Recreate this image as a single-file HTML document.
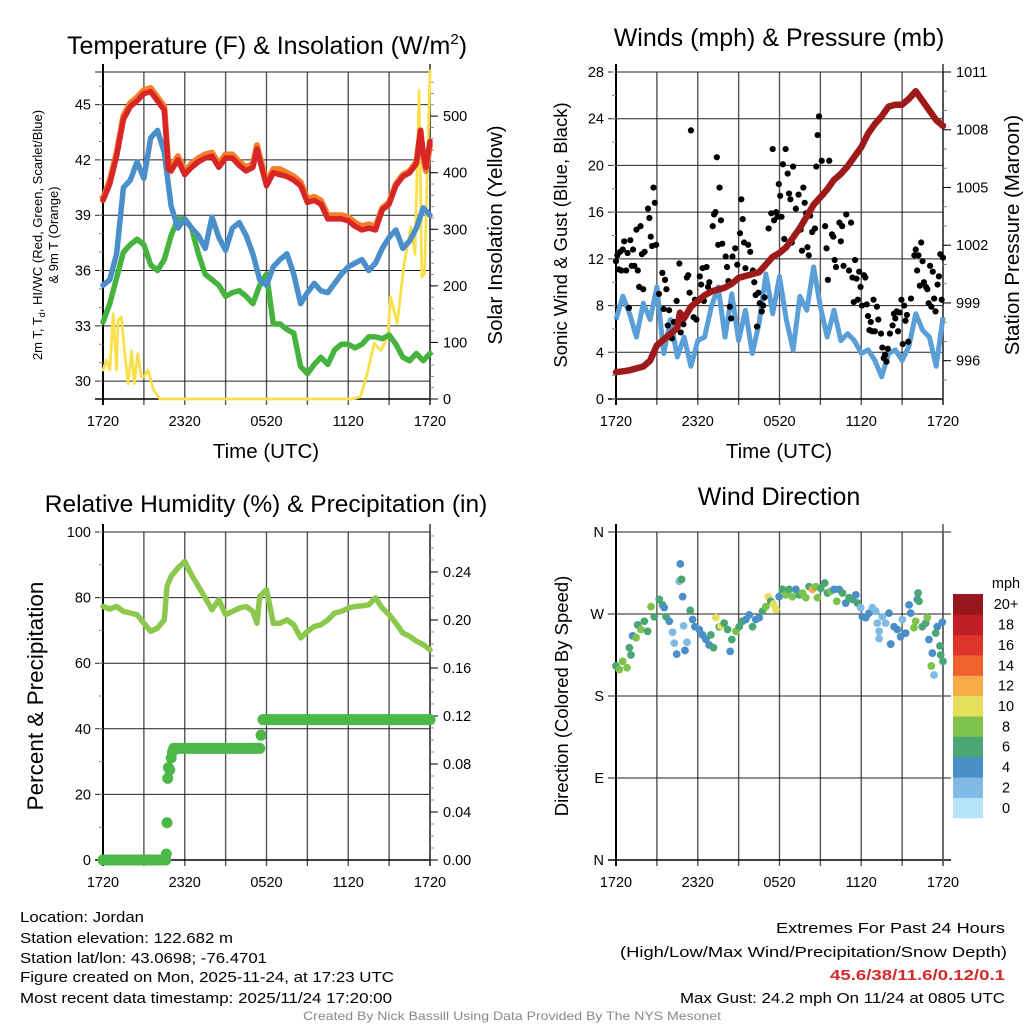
<!DOCTYPE html>
<html><head><meta charset="utf-8">
<style>
html,body{margin:0;padding:0;background:#fff;}
svg{display:block;font-family:"Liberation Sans",sans-serif;}
</style></head>
<body>
<svg id="fig" width="1024" height="1024" viewBox="0 0 1024 1024" xmlns="http://www.w3.org/2000/svg">
<rect width="1024" height="1024" fill="#fff"/>
<g id="p1"></g>
<g id="p2"></g>
<g id="p3"></g>
<g id="p4"></g>

<text x="267" y="54" font-size="25" text-anchor="middle">Temperature (F) &amp; Insolation (W/m<tspan font-size="15" dy="-10">2</tspan><tspan dy="10">)</tspan></text>
<text x="779" y="46" font-size="25" text-anchor="middle">Winds (mph) &amp; Pressure (mb)</text>
<text x="266" y="512" font-size="24.5" text-anchor="middle">Relative Humidity (%) &amp; Precipitation (in)</text>
<text x="779" y="505" font-size="25" text-anchor="middle">Wind Direction</text>

<text x="266" y="458" font-size="20.5" text-anchor="middle">Time (UTC)</text>
<text x="779" y="458" font-size="20.5" text-anchor="middle">Time (UTC)</text>

<text transform="translate(42,235) rotate(-90)" font-size="13" text-anchor="middle">2m T, T<tspan font-size="9" dy="3">d</tspan><tspan dy="-3">, HI/WC (Red, Green, Scarlet/Blue)</tspan></text>
<text transform="translate(58,235) rotate(-90)" font-size="13" text-anchor="middle">&amp; 9m T (Orange)</text>
<text transform="translate(502,235) rotate(-90)" font-size="20.5" text-anchor="middle">Solar Insolation (Yellow)</text>
<text transform="translate(567,235) rotate(-90)" font-size="18.5" text-anchor="middle">Sonic Wind &amp; Gust (Blue, Black)</text>
<text transform="translate(1019,235) rotate(-90)" font-size="20.5" text-anchor="middle">Station Pressure (Maroon)</text>
<text transform="translate(43,696) rotate(-90)" font-size="22.5" text-anchor="middle">Percent &amp; Precipitation</text>
<text transform="translate(568,696) rotate(-90)" font-size="18.5" text-anchor="middle">Direction (Colored By Speed)</text>

<g font-size="15">
<text x="20" y="922" textLength="124" lengthAdjust="spacingAndGlyphs">Location: Jordan</text>
<text x="20" y="943" textLength="213" lengthAdjust="spacingAndGlyphs">Station elevation: 122.682 m</text>
<text x="20" y="963" textLength="247" lengthAdjust="spacingAndGlyphs">Station lat/lon: 43.0698; -76.4701</text>
<text x="20" y="982" textLength="374" lengthAdjust="spacingAndGlyphs">Figure created on Mon, 2025-11-24, at 17:23 UTC</text>
<text x="20" y="1003" textLength="372" lengthAdjust="spacingAndGlyphs">Most recent data timestamp: 2025/11/24 17:20:00</text>
</g>
<g font-size="15">
<text x="776" y="933" textLength="229" lengthAdjust="spacingAndGlyphs">Extremes For Past 24 Hours</text>
<text x="620" y="957" textLength="387" lengthAdjust="spacingAndGlyphs">(High/Low/Max Wind/Precipitation/Snow Depth)</text>
<text x="830" y="980" textLength="175" lengthAdjust="spacingAndGlyphs" fill="#d42a2a" font-weight="bold">45.6/38/11.6/0.12/0.1</text>
<text x="680" y="1003" textLength="325" lengthAdjust="spacingAndGlyphs">Max Gust: 24.2 mph On 11/24 at 0805 UTC</text>
</g>
<text x="303" y="1020" font-size="12" fill="#888" textLength="418" lengthAdjust="spacingAndGlyphs">Created By Nick Bassill Using Data Provided By The NYS Mesonet</text>
</svg>
<script>
// ---------- DATA ----------
const timeLabels = ["1720","2320","0520","1120","1720"];
const halfHours = [0,0.5,1,1.5,2,2.5,3,3.5,4,4.5,5,5.5,6,6.5,7,7.5,8,8.5,9,9.5,10,10.5,11,11.5,12,12.5,13,13.5,14,14.5,15,15.5,16,16.5,17,17.5,18,18.5,19,19.5,20,20.5,21,21.5,22,22.5,23,23.5,24];
const tempHours = [0,0.5,1,1.5,2,2.5,3,3.5,4,4.5,4.8,5,5.5,6,6.5,7,7.5,8,8.5,9,9.5,10,10.5,11,11.3,11.5,12,12.5,13,13.5,14,14.5,15,15.5,16,16.5,17,17.5,18,18.5,19,19.5,20,20.5,21,21.5,22,22.5,23,23.3,23.5,23.7,24];
const tempRed = [39.8,40.7,42.2,44.2,44.9,45.2,45.6,45.7,45.2,44.7,41.5,41.4,42.0,41.2,41.6,41.9,42.1,42.2,41.6,42.1,42.1,41.7,41.4,41.6,42.6,42.0,40.6,41.3,41.2,41.1,40.9,40.6,39.7,39.8,39.6,38.8,38.8,38.8,38.7,38.4,38.2,38.3,38.2,39.3,39.6,40.6,41.1,41.3,41.8,43.6,42.4,41.6,43.0];
const temp9m = [39.9,40.9,42.4,44.4,45.1,45.4,45.8,45.9,45.4,44.9,41.7,41.6,42.2,41.4,41.8,42.1,42.3,42.4,41.8,42.3,42.3,41.9,41.6,41.8,42.8,42.2,40.8,41.5,41.5,41.3,41.1,40.8,39.9,40.0,39.8,39.0,39.0,39.0,38.9,38.6,38.4,38.5,38.4,39.4,39.7,40.7,41.2,41.4,41.9,43.6,42.2,41.4,42.8];
const windChill = [35.2,35.5,36.9,40.5,40.9,41.9,41.0,43.2,43.6,42.4,39.5,38.3,38.8,38.3,37.9,37.2,38.9,37.8,37.1,38.3,38.6,37.9,36.9,35.5,35.2,36.2,36.6,36.9,35.8,34.2,34.8,35.3,34.9,34.8,35.3,35.8,36.2,36.4,36.6,36.0,36.4,37.2,37.8,38.2,37.2,37.6,38.3,39.4,39.0];
const dewPoint = [33.2,34.2,35.6,37.0,37.4,37.7,37.4,36.3,36.0,36.6,37.9,38.8,38.8,38.3,36.9,35.8,35.5,35.2,34.6,34.8,34.9,34.6,34.2,35.2,35.8,33.1,33.1,32.8,32.6,30.8,30.4,30.9,31.3,30.9,31.7,32.0,32.0,31.8,32.0,32.4,32.4,32.3,32.5,32.0,31.3,31.1,31.5,31.1,31.5];
const solarHours = [0,0.25,0.5,0.75,1,1.1,1.35,1.6,1.85,2.1,2.3,2.55,2.8,3.0,3.3,3.7,4.2,5,10,15,18.3,18.9,19.4,19.9,20.4,20.9,21.1,21.6,22.1,22.6,22.9,23.2,23.4,23.6,24];
const solarValues = [51,69,51,151,51,139,145,80,27,85,27,80,40,39,51,16,0,0,0,0,0,4,45,98,86,110,181,134,239,304,256,545,216,222,580];
const pressureHours = [0,0.5,1,1.5,2,2.5,3,3.5,4,4.5,4.7,5,5.5,6,6.5,7,7.5,8,8.5,9,9.5,10,10.5,11,11.5,12,12.5,13,13.5,14,14.5,15,15.5,16,16.5,17,17.5,18,18.5,19,19.5,20,20.5,21,21.5,22,22.5,23,23.5,24];
const pressureValues = [995.4,995.45,995.5,995.6,995.7,996.0,996.8,997.1,997.4,997.7,998.5,998.2,998.8,999.1,999.4,999.6,999.7,999.8,1000.0,1000.3,1000.4,1000.5,1000.6,1001.0,1001.4,1001.6,1001.9,1002.4,1002.9,1003.5,1004.1,1004.5,1004.9,1005.4,1005.7,1006.1,1006.6,1007.1,1007.8,1008.3,1008.7,1009.2,1009.3,1009.3,1009.6,1010.0,1009.5,1009.0,1008.5,1008.2];
const windSpeed = [6.8,8.8,7.3,5.3,8.2,6.8,9.6,3.9,6.8,3.6,5.3,2.8,5.0,5.3,7.9,9.6,5.3,9.0,5.0,7.6,3.9,6.5,10.7,7.3,10.5,6.8,4.2,8.8,7.6,11.3,7.9,5.3,7.6,5.0,5.6,5.0,3.9,4.2,3.3,1.9,3.9,4.2,3.3,4.5,7.3,5.9,5.3,2.8,7.0];
const gustHours = [0,0.1,0.2,0.3,0.4,0.5,0.6,0.75,0.85,0.95,1.05,1.15,1.25,1.35,1.5,1.6,1.7,1.8,1.9,2.0,2.1,2.35,2.45,2.55,2.65,2.75,2.85,2.95,3.15,3.4,3.5,3.6,3.7,3.8,3.9,4.1,4.25,4.45,4.65,4.75,4.85,4.95,5.2,5.3,5.4,5.5,5.7,5.8,5.9,6.15,6.25,6.35,6.45,6.65,6.75,6.85,7.1,7.2,7.3,7.4,7.5,7.6,7.7,7.8,8.05,8.15,8.25,8.35,8.45,8.55,8.75,8.9,9.1,9.2,9.3,9.4,9.5,9.7,9.85,10.05,10.15,10.25,10.35,10.45,10.55,10.7,10.8,10.9,11.2,11.4,11.5,11.6,11.75,11.85,11.95,12.05,12.15,12.25,12.35,12.45,12.6,12.7,12.8,12.9,13.0,13.1,13.2,13.4,13.55,13.65,13.75,13.85,13.95,14.05,14.15,14.25,14.4,14.6,14.7,14.8,14.9,15.1,15.2,15.35,15.45,15.55,15.65,15.85,15.95,16.05,16.15,16.4,16.5,16.6,16.7,16.9,17.1,17.25,17.35,17.45,17.55,17.65,17.75,17.85,17.95,18.05,18.2,18.3,18.4,18.5,18.6,18.7,18.8,18.9,19.0,19.15,19.25,19.45,19.55,19.65,19.75,19.85,19.95,20.1,20.3,20.4,20.5,20.6,20.7,20.8,20.95,21.05,21.15,21.25,21.35,21.45,21.65,21.9,22.0,22.1,22.2,22.3,22.4,22.5,22.6,22.75,22.85,22.95,23.05,23.15,23.25,23.35,23.45,23.6,23.7,23.8,23.9,24.0];
const gustValues = [11.8,12.3,11.1,12.6,11.0,12.8,13.5,11.0,12.5,7.8,13.6,11.4,12.8,11.4,14.5,11.0,9.6,14.8,12.4,9.4,12.6,16.3,15.5,13.9,13.1,18.1,16.8,13.2,9.0,10.8,7.7,10.2,9.4,6.3,7.6,5.2,6.6,8.4,11.6,5.7,6.9,6.4,10.4,10.6,9.1,23.0,7.0,8.5,6.8,10.5,9.8,11.2,8.4,11.3,9.6,10.0,14.8,15.8,16.0,20.7,13.2,18.1,15.3,13.3,12.2,11.3,10.1,7.9,6.9,12.2,12.9,11.5,14.2,17.1,15.4,13.4,11.2,13.2,12.6,11.0,10.0,8.9,6.2,9.1,8.2,7.5,8.0,8.7,14.6,15.9,21.4,15.3,16.0,15.6,18.4,17.4,15.6,20.1,13.7,21.4,19.3,17.6,17.1,13.4,19.9,14.0,16.3,17.5,14.5,12.7,18.1,16.8,15.9,13.0,12.3,15.7,14.3,14.6,19.9,22.6,24.2,20.4,17.5,14.8,12.9,10.2,20.4,14.1,13.9,11.9,11.3,15.1,13.5,14.8,11.4,15.8,11.0,15.1,10.4,8.3,11.9,10.3,8.5,10.9,9.6,8.0,10.6,10.4,8.1,7.1,5.9,6.6,5.8,8.5,5.8,7.9,6.8,5.6,4.4,3.5,3.8,3.2,4.3,5.6,6.3,7.3,6.9,7.5,5.8,7.4,8.5,4.7,8.0,6.7,7.2,4.9,8.6,12.3,12.8,11.0,12.3,9.7,13.4,11.8,10.0,9.6,9.4,8.2,11.4,7.9,10.9,8.6,7.5,9.8,10.5,12.4,8.5,12.1];
const rhHours = [0,0.5,1,1.5,2,2.5,3,3.5,4,4.5,4.7,5,5.5,6,6.5,7,7.5,8,8.5,9,9.5,10,10.5,11,11.3,11.5,12,12.5,13,13.5,14,14.5,15,15.5,16,16.5,17,17.5,18,18.5,19,19.5,20,20.5,21,21.5,22,22.5,23,23.5,24];
const rhValues = [77.3,76.5,77.3,75.8,75.3,74.8,72.2,69.7,70.7,73.2,83.4,86.5,89.0,91.0,86.9,83.4,79.9,76.3,79.4,74.8,75.8,76.8,77.3,75.8,72.2,80.4,82.4,72.2,72.2,73.2,71.7,67.7,69.7,71.2,71.7,73.2,75.3,75.8,76.8,77.3,77.5,77.8,79.9,76.8,74.8,72.2,69.2,68.2,66.7,65.7,64.1];
const precipHours = [0,4.6,4.65,4.7,4.75,4.8,4.9,5.0,5.1,5.2,5.4,11.5,11.6,11.75,24];
const precipValues = [0,0,0.005,0.031,0.068,0.077,0.075,0.085,0.09,0.093,0.093,0.093,0.104,0.117,0.117];
const dirHours = [0,0.24,0.49,0.81,0.98,1.1,1.22,1.47,1.59,1.83,2.08,2.32,2.57,2.81,3.18,3.42,3.54,3.67,3.91,4.15,4.28,4.45,4.64,4.72,4.81,4.89,4.96,5.06,5.21,5.45,5.62,5.79,6.11,6.35,6.6,6.84,6.96,7.16,7.33,7.58,7.7,7.94,8.19,8.38,8.5,8.8,9.04,9.29,9.53,9.78,10.02,10.26,10.51,10.75,11.0,11.17,11.36,11.56,11.73,11.97,12.22,12.46,12.71,12.95,13.2,13.44,13.69,13.93,14.17,14.42,14.66,14.79,15.03,15.32,15.52,15.76,16.01,16.2,16.37,16.62,16.86,17.11,17.35,17.6,17.72,17.96,18.08,18.33,18.57,18.82,19.06,19.18,19.31,19.31,19.55,19.79,20.04,20.16,20.41,20.65,20.89,21.02,21.26,21.51,21.63,21.87,21.99,22.12,22.17,22.24,22.48,22.73,22.85,22.97,23.14,23.22,23.34,23.46,23.58,23.78,23.83,23.95,24];
const dirValues = [213,209,218,211,233,225,246,244,258,253,262,251,278,267,286,280,277,267,262,250,238,226,306,325,308,289,257,230,239,274,264,256,253,247,242,236,247,233,266,256,257,260,253,229,242,251,256,262,264,269,256,264,266,273,278,289,284,281,275,289,297,291,297,289,297,291,293,288,300,297,300,288,298,304,293,295,297,284,297,293,282,288,286,291,282,277,267,266,271,277,273,260,251,243,267,260,271,237,256,253,245,264,249,280,271,255,262,286,293,284,256,260,266,242,213,227,203,249,256,235,225,261,218];
const dirSpeeds = [6,8,8,8,6,6,4,8,6,8,6,6,8,6,6,6,4,6,4,2,2,4,2,4,6,4,2,4,2,6,4,4,4,4,4,4,6,6,10,6,10,6,6,4,6,8,6,6,4,4,6,4,4,6,8,10,6,10,10,4,6,8,6,8,4,6,8,8,6,12,8,8,6,6,6,8,4,8,4,6,4,6,6,4,6,2,4,4,4,2,2,2,2,2,2,2,4,4,4,4,4,2,4,4,4,8,8,4,6,6,6,6,8,4,8,4,2,6,4,6,6,4,6];
const speedBinLabels = ["0","2","4","6","8","10","12","14","16","18","20+"];
const speedBinColors = ["#b5e3f8","#7fbbe5","#4a8fc8","#4aa774","#7dc24b","#e6e05c","#f6aa48","#ee632d","#dd3429","#bf1e26","#95181c"];

// ---------- HELPERS ----------
const NS = "http://www.w3.org/2000/svg";
function mk(parent, tag, attrs) {
  const e = document.createElementNS(NS, tag);
  for (const k in attrs) e.setAttribute(k, attrs[k]);
  parent.appendChild(e);
  return e;
}
function scale(d0, d1, r0, r1) { return v => r0 + (v - d0) * (r1 - r0) / (d1 - d0); }
function pathFrom(xs, ys, fx, fy) {
  return xs.map((h, i) => (i ? "L" : "M") + fx(h).toFixed(1) + "," + fy(ys[i]).toFixed(1)).join(" ");
}

function frame(g, L, R, T, B, fx, hLines) {
  for (let h = 0; h <= 24; h += 3) {
    const l = mk(g, "line", {x1: fx(h), x2: fx(h), y1: T, y2: B + 6, stroke: "#555", "stroke-width": 1.4});
    
    
  }
  hLines.forEach(y => {
    const l = mk(g, "line", {x1: L - 8, x2: R, y1: y, y2: y, stroke: "#222", "stroke-width": 1});
    
    
  });
  const sp = mk(g, "line", {x1: L, x2: L, y1: T - 8, y2: B + 6, stroke: "#000", "stroke-width": 2});
  
  
  const bt = mk(g, "line", {x1: L - 8, x2: R, y1: B, y2: B, stroke: "#000", "stroke-width": 1.5});
  
  
  timeLabels.forEach((t, i) => {
    const tx = mk(g, "text", {x: fx(i * 6), y: B + 27, "font-size": 14.5, "text-anchor": "middle"});
    tx.textContent = t;
    
    
  });
}
function leftTicks(g, L, ticks, fy, minors, labels) {
  minors.forEach(v => {
    const l = mk(g, "line", {x1: L - 4, x2: L, y1: fy(v), y2: fy(v), stroke: "#888", "stroke-width": 1});
    
    
  });
  ticks.forEach((v, i) => {
    const t = mk(g, "text", {x: L - 12, y: fy(v) + 5, "font-size": 14.5, "text-anchor": "end"});
    t.textContent = labels ? labels[i] : v;
    
    
  });
}
function rightTicks(g, R, T, B, ticks, fy, minors, labels) {
  const sp = mk(g, "line", {x1: R, x2: R, y1: T - 8, y2: B + 6, stroke: "#333", "stroke-width": 1.5});
  
  
  minors.forEach(v => {
    const l = mk(g, "line", {x1: R, x2: R + 4, y1: fy(v), y2: fy(v), stroke: "#888", "stroke-width": 1});
    
    
  });
  ticks.forEach((v, i) => {
    const l = mk(g, "line", {x1: R, x2: R + 8, y1: fy(v), y2: fy(v), stroke: "#000", "stroke-width": 1});
    
    
    const t = mk(g, "text", {x: R + 13, y: fy(v) + 5, "font-size": 14.5});
    t.textContent = labels[i];
    
    
  });
}
function range(a, b, s) { const r = []; for (let v = a; v <= b + 1e-9; v += s) r.push(+v.toFixed(4)); return r; }

// ---------- PANEL 1 ----------
(function () {
  const g = document.getElementById("p1");
  const L = 103, R = 430, T = 72, B = 399;
  const fx = scale(0, 24, L, R), fy = scale(29.03, 46.77, B, T), fs = scale(0, 578, B, T);
  const yt = [30, 33, 36, 39, 42, 45];
  frame(g, L, R, T, B, fx, yt.map(fy).concat([T]));
  leftTicks(g, L, yt, fy, range(30, 46, 1));
  const st = [0, 100, 200, 300, 400, 500];
  rightTicks(g, R, T, B, st, fs, range(0, 560, 20), st.map(String));
  const lines = [
    [solarHours, solarValues, fs, "#f9e04b", 2.8, "solar-insolation-line"],
    [halfHours, dewPoint, fy, "#46b33f", 5.5, "dewpoint-line"],
    [halfHours, windChill, fy, "#4a8fca", 5.5, "windchill-line"],
    [tempHours, temp9m, fy, "#f47e2a", 6, "temp-9m-line"],
    [tempHours, tempRed, fy, "#d82626", 5.5, "temp-2m-line"]
  ];
  lines.forEach(s => {
    const p = mk(g, "path", {d: pathFrom(s[0], s[1], fx, s[2]), fill: "none", stroke: s[3], "stroke-width": s[4], "stroke-linejoin": "round", "stroke-linecap": "round"});
    
    
  });
})();

// ---------- PANEL 2 ----------
(function () {
  const g = document.getElementById("p2");
  const L = 616, R = 943, T = 72, B = 399;
  const fx = scale(0, 24, L, R), fy = scale(0, 28, B, T), fp = scale(994.01, 1011, B, T);
  const yt = [0, 4, 8, 12, 16, 20, 24, 28];
  frame(g, L, R, T, B, fx, yt.map(fy));
  leftTicks(g, L, yt, fy, range(0, 28, 2));
  const pt = [996, 999, 1002, 1005, 1008, 1011];
  rightTicks(g, R, T, B, pt, fp, range(995, 1011, 1), pt.map(String));
  const w = mk(g, "path", {d: pathFrom(halfHours, windSpeed, fx, fy), fill: "none", stroke: "#5a9fd8", "stroke-width": 5, "stroke-linejoin": "round"});
  
  
  gustHours.forEach((h, i) => {
    const c = mk(g, "circle", {cx: fx(h), cy: fy(gustValues[i]), r: 3.1, fill: "#000"});
    
    
  });
  const p = mk(g, "path", {d: pathFrom(pressureHours, pressureValues, fx, fp), fill: "none", stroke: "#9e1a1a", "stroke-width": 6.5, "stroke-linejoin": "round", "stroke-linecap": "round"});
  
  
})();

// ---------- PANEL 3 ----------
(function () {
  const g = document.getElementById("p3");
  const L = 103, R = 430, T = 532, B = 860;
  const fx = scale(0, 24, L, R), fy = scale(0, 100, B, T), fr = scale(0, 0.2733, B, T);
  const yt = [0, 20, 40, 60, 80, 100];
  frame(g, L, R, T, B, fx, yt.map(fy));
  leftTicks(g, L, yt, fy, range(0, 100, 10));
  const rt = [0, 0.04, 0.08, 0.12, 0.16, 0.20, 0.24];
  rightTicks(g, R, T, B, rt, fr, range(0, 0.27, 0.01), rt.map(v => v.toFixed(2)));
  const rh = mk(g, "path", {d: pathFrom(rhHours, rhValues, fx, fy), fill: "none", stroke: "#8cc84b", "stroke-width": 5.5, "stroke-linejoin": "round", "stroke-linecap": "round"});
  
  
  precipHours.forEach((h, i) => {
    if (i > 0 && precipValues[i] === precipValues[i - 1]) {
      const s = mk(g, "line", {x1: fx(precipHours[i - 1]), x2: fx(h), y1: fr(precipValues[i]), y2: fr(precipValues[i]), stroke: "#4bb848", "stroke-width": 11, "stroke-linecap": "round"});
      
      
    }
    const c = mk(g, "circle", {cx: fx(h), cy: fr(precipValues[i]), r: 5.5, fill: "#4bb848"});
    
    
  });
})();

// ---------- PANEL 4 ----------
(function () {
  const g = document.getElementById("p4");
  const L = 616, R = 943, T = 532, B = 860;
  const fx = scale(0, 24, L, R), fy = scale(0, 360, B, T);
  const yt = [0, 90, 180, 270, 360];
  const yl = ["N", "E", "S", "W", "N"];
  frame(g, L, R + 8, T, B, fx, yt.map(fy));
  leftTicks(g, L, yt, fy, [], yl);
  const rs = mk(g, "line", {x1: R, x2: R, y1: T - 8, y2: B + 6, stroke: "#555", "stroke-width": 1.5});
  
  
  dirHours.forEach((h, i) => {
    const bin = Math.min(10, Math.floor(dirSpeeds[i] / 2));
    const c = mk(g, "circle", {cx: fx(h), cy: fy(dirValues[i]), r: 3.9, fill: speedBinColors[bin]});
    
    
  });
  const cbT = 594, cbB = 818, n = speedBinLabels.length, hh = (cbB - cbT) / n;
  const title = mk(g, "text", {x: 1006, y: 588, "font-size": 14.5, "text-anchor": "middle"});
  title.textContent = "mph";
  
  
  speedBinLabels.forEach((lab, i) => {
    const y = cbB - (i + 1) * hh;
    const r = mk(g, "rect", {x: 953, y: y, width: 30, height: hh + 0.3, fill: speedBinColors[i]});
    
    
    const t = mk(g, "text", {x: 1006, y: y + hh / 2 + 5, "font-size": 14.5, "text-anchor": "middle"});
    t.textContent = lab;
    
    
  });
})();
</script>
</body></html>
